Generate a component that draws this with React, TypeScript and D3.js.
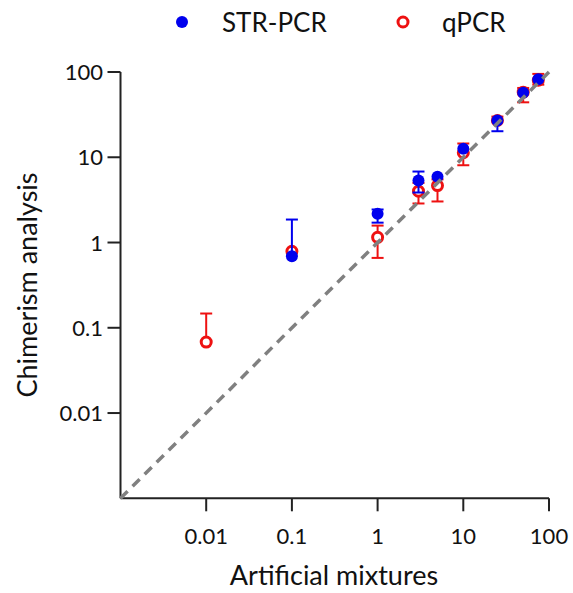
import React from "react";
import * as d3 from "d3";

const xTicks = [0.01, 0.1, 1, 10, 100];
const yTicks = [0.01, 0.1, 1, 10, 100];
const xTickLabels = ["0.01", "0.1", "1", "10", "100"];
const yTickLabels = ["0.01", "0.1", "1", "10", "100"];

const strX = [0.1, 1, 3, 5, 10, 25, 50, 75];
const strMean = [0.69, 2.17, 5.35, 5.9, 12.6, 27, 57, 82];
const strLow = [0.69, 1.71, 3.86, 5.9, 12.6, 20.2, 57, 82];
const strHigh = [1.86, 2.44, 6.8, 5.9, 12.6, 27, 57, 82];

const qX = [0.01, 0.1, 1, 3, 5, 10, 25, 50, 75];
const qMean = [0.068, 0.79, 1.15, 4.0, 4.66, 11.3, 27, 58, 80];
const qLow = [0.068, 0.79, 0.66, 2.87, 3.03, 8.06, 27, 44.1, 71];
const qHigh = [0.147, 0.79, 1.58, 5.0, 5.5, 14.5, 30, 65, 95];

const FONT = "Lato, 'Open Sans', sans-serif";

export default function App() {
  const W = 573, H = 593;
  const x = d3.scaleLog().domain([0.001, 100]).range([120.5, 549]);
  const y = d3.scaleLog().domain([0.001, 100]).range([498.3, 72]);
  const blue = "#0000ee";
  const red = "#ee1111";
  const capW = 6;

  const errBars = (xs: number[], lo: number[], hi: number[], mean: number[], color: string) =>
    xs.map((xv, i) => {
      const cx = x(xv);
      const els: React.ReactNode[] = [];
      if (hi[i] > mean[i]) {
        els.push(<line key={"hu" + i} x1={cx} x2={cx} y1={y(mean[i])} y2={y(hi[i])} stroke={color} strokeWidth={2} />);
        els.push(<line key={"hc" + i} x1={cx - capW} x2={cx + capW} y1={y(hi[i])} y2={y(hi[i])} stroke={color} strokeWidth={2} />);
      }
      if (lo[i] < mean[i]) {
        els.push(<line key={"lu" + i} x1={cx} x2={cx} y1={y(mean[i])} y2={y(lo[i])} stroke={color} strokeWidth={2} />);
        els.push(<line key={"lc" + i} x1={cx - capW} x2={cx + capW} y1={y(lo[i])} y2={y(lo[i])} stroke={color} strokeWidth={2} />);
      }
      return <g key={color + i}>{els}</g>;
    });

  return (
    <svg width={W} height={H} style={{ position: "absolute", left: 0, top: 0, background: "#fff" }}>
      <rect width={W} height={H} fill="#fff" />
      {/* legend */}
      <circle cx={182} cy={22} r={6} fill={blue} />
      <text x={222} y={32} fontFamily={FONT} fontSize={26} fill="#111">STR-PCR</text>
      <circle cx={403} cy={22} r={5} fill="none" stroke={red} strokeWidth={3} />
      <text x={442} y={32} fontFamily={FONT} fontSize={26} fill="#111">qPCR</text>

      {/* axes */}
      <line x1={x(0.001)} x2={x(100)} y1={y(0.001)} y2={y(0.001)} stroke="#222" strokeWidth={2} />
      <line x1={x(0.001)} x2={x(0.001)} y1={y(0.001)} y2={y(100)} stroke="#222" strokeWidth={2} />
      {xTicks.map((t, i) => (
        <g key={"xt" + i}>
          <line x1={x(t)} x2={x(t)} y1={y(0.001)} y2={y(0.001) + 13} stroke="#222" strokeWidth={2} />
          <text x={x(t)} y={544} textAnchor="middle" fontFamily={FONT} fontSize={22} fill="#111">{xTickLabels[i]}</text>
        </g>
      ))}
      {yTicks.map((t, i) => (
        <g key={"yt" + i}>
          <line x1={x(0.001) - 13} x2={x(0.001)} y1={y(t)} y2={y(t)} stroke="#222" strokeWidth={2} />
          <text x={103} y={y(t) + 8} textAnchor="end" fontFamily={FONT} fontSize={22} fill="#111">{yTickLabels[i]}</text>
        </g>
      ))}
      <text x={334} y={585} textAnchor="middle" fontFamily={FONT} fontSize={27} fill="#111">Artificial mixtures</text>
      <text transform={`translate(37,285) rotate(-90)`} textAnchor="middle" fontFamily={FONT} fontSize={27} fill="#111">Chimerism analysis</text>

      {/* qPCR */}
      {errBars(qX, qLow, qHigh, qMean, red)}
      {qX.map((xv, i) => (
        <circle key={"q" + i} cx={x(xv)} cy={y(qMean[i])} r={5} fill="#fff" stroke={red} strokeWidth={3} />
      ))}
      {/* STR-PCR */}
      {errBars(strX, strLow, strHigh, strMean, blue)}
      {strX.map((xv, i) => (
        <circle key={"s" + i} cx={x(xv)} cy={y(strMean[i])} r={6} fill={blue} />
      ))}

      {/* identity line */}
      <line x1={x(0.001)} y1={y(0.001)} x2={x(100)} y2={y(100)} stroke="#808080" strokeWidth={3.5} strokeDasharray="10 7" />
    </svg>
  );
}
